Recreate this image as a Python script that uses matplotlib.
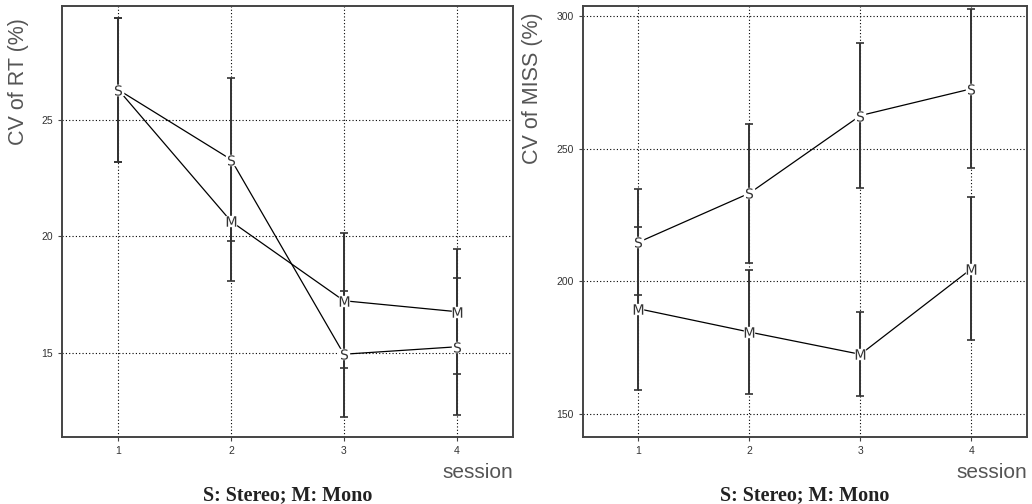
import matplotlib.pyplot as plt
import numpy as np

# sessions
session = [1, 2, 3, 4]

# CV of RT (%)
rt_stereo = [26.3, 23.3, 14.93, 15.25]
rt_stereo_err = [3.1, 3.5, 2.72, 2.95]
rt_mono = [26.3, 20.64, 17.23, 16.76]
rt_mono_err = [3.1, 2.57, 2.9, 2.68]

# CV of MISS (%)
miss_stereo = [214.7, 233.2, 262.5, 272.6]
miss_stereo_err = [20.1, 26.2, 27.2, 30.0]
miss_mono = [189.6, 180.8, 172.4, 204.7]
miss_mono_err = [30.7, 23.5, 15.8, 27.0]

rt_yticks = [15, 20, 25]
miss_yticks = [150, 200, 250, 300]

plt.rcParams['font.family'] = ['Liberation Sans', 'DejaVu Sans']

fig = plt.figure(figsize=(10.32, 5.04), dpi=100)
ax1 = fig.add_axes([0.0601, 0.1329, 0.437, 0.855])
ax2 = fig.add_axes([0.5649, 0.1329, 0.4302, 0.855])


def panel(ax, ylabel, s, s_err, m, m_err, yticks, ylim):
    ax.grid(True, color='k', linestyle=(0, (1, 2)), lw=0.8, zorder=0)
    ax.set_axisbelow(True)
    for y, e in ((m, m_err), (s, s_err)):
        ax.errorbar(session, y, yerr=e, fmt='none', ecolor='#333333',
                    elinewidth=1.4, capsize=3, capthick=1.2, zorder=2)
    z = 3
    for y, letter in ((m, 'M'), (s, 'S')):
        ax.plot(session, y, color='k', lw=0.9, zorder=3)
        ax.plot(session, y, 's', color='white', ms=7, zorder=z + 1)
        ax.plot(session, y, linestyle='none', marker=r'$\mathrm{%s}$' % letter,
                color='#333333', ms=7.5, mew=0, zorder=z + 2)
        z += 2
    ax.set_xlim(0.5, 4.5)
    ax.set_ylim(*ylim)
    ax.set_xticks(session)
    ax.set_yticks(yticks)
    ax.tick_params(labelsize=7.5, labelcolor='#333333', color='#444444',
                   length=3, width=0.8)
    for sp in ax.spines.values():
        sp.set_color('#444444')
        sp.set_linewidth(1.4)
    ax.set_ylabel(ylabel, fontsize=15.5, color='#555555')
    ax.text(1.0, -0.06, 'session', transform=ax.transAxes, ha='right',
            va='top', fontsize=15, color='#555555')
    ax.text(0.5, -0.112, 'S: Stereo; M: Mono', transform=ax.transAxes,
            ha='center', va='top', fontsize=14.5, fontweight='bold',
            family='Liberation Serif', color='#222222')


panel(ax1, 'CV of RT (%)', rt_stereo, rt_stereo_err, rt_mono, rt_mono_err,
      rt_yticks, (11.37, 29.9))
panel(ax2, 'CV of MISS (%)', miss_stereo, miss_stereo_err, miss_mono,
      miss_mono_err, miss_yticks, (141.2, 303.8))
ax1.yaxis.set_label_coords(-0.073, 0.825)
ax2.yaxis.set_label_coords(-0.09, 0.81)

fig.savefig('out.png', dpi=100, facecolor='white')
